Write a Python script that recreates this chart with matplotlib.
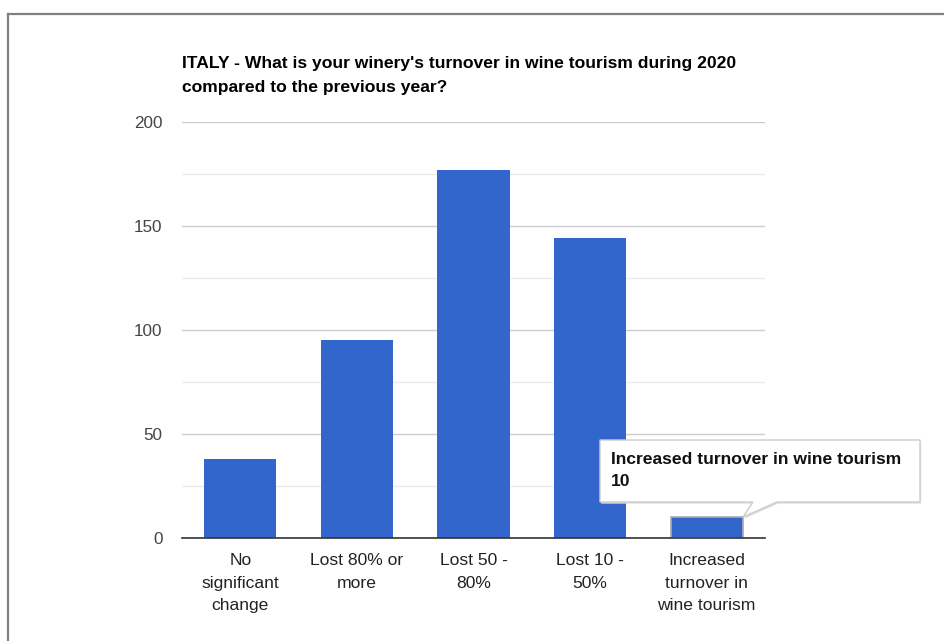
import matplotlib.pyplot as plt
from matplotlib.patches import Polygon
from matplotlib.lines import Line2D

categories = ['No\nsignificant\nchange', 'Lost 80% or\nmore', 'Lost 50 -\n80%',
              'Lost 10 -\n50%', 'Increased\nturnover in\nwine tourism']
values = [38, 95, 177, 144, 10]
yticks = [0, 50, 100, 150, 200]
title = "ITALY - What is your winery's turnover in wine tourism during 2020\ncompared to the previous year?"
tooltip_label = 'Increased turnover in wine tourism'

plt.rcParams['font.family'] = ['Liberation Sans', 'DejaVu Sans']

W, H = 944, 641
fig = plt.figure(figsize=(W / 100, H / 100), dpi=100)
ax = fig.add_axes([182 / W, (H - 538) / H, (765 - 182) / W, (538 - 122) / H])

x = range(len(values))
bars = ax.bar(x, values, width=0.62, color='#3366cc', zorder=3)
# hovered bar gets a grey outline
bars[-1].set_edgecolor('#aaaaaa')
bars[-1].set_linewidth(1.2)

ax.set_xlim(-0.5, len(values) - 0.5)
ax.set_ylim(0, 200)
ax.set_yticks(yticks)
ax.set_yticks([25, 75, 125, 175], minor=True)
ax.grid(axis='y', which='major', color='#cccccc', linewidth=1, zorder=0)
ax.grid(axis='y', which='minor', color='#ebebeb', linewidth=1, zorder=0)
ax.set_xticks(list(x))
ax.set_xticklabels(categories, fontsize=12.6, color='#222222', linespacing=1.63)
ax.tick_params(axis='y', labelsize=12.3, labelcolor='#444444', length=0, pad=14)
ax.tick_params(axis='x', length=0, pad=11)
ax.tick_params(which='minor', length=0)
for s in ['top', 'right', 'left']:
    ax.spines[s].set_visible(False)
ax.spines['bottom'].set_color('#333333')
ax.spines['bottom'].set_linewidth(1.2)
ax.spines['bottom'].set_zorder(4)

fig.text(182 / W, 1 - 56 / H, title, fontsize=12.6, fontweight='bold',
         ha='left', va='top', linespacing=1.76)

# tooltip with pointer, in data coords relative to the last bar
i = len(values) - 1
def px(xp):
    return (xp - 182) / 116.6 - 0.5
def py(yp):
    return (538 - yp) / 2.08

shape = [(px(600), py(440)), (px(920), py(440)), (px(920), py(502)),
         (px(777), py(502)), (px(743), py(517)), (px(753), py(502)),
         (px(600), py(502))]
shadow = Polygon([(a + 0.01, b - 0.8) for a, b in shape], closed=True,
                 facecolor='#dddddd', edgecolor='none', clip_on=False, zorder=5)
box = Polygon(shape, closed=True, facecolor='white', edgecolor='#cccccc',
              linewidth=1, clip_on=False, zorder=6)
ax.add_patch(shadow)
ax.add_patch(box)
ax.text(px(611), py(459), tooltip_label, fontsize=12.6, fontweight='bold',
        color='#111111', ha='left', va='center', zorder=7, clip_on=False)
ax.text(px(611), py(481), str(values[i]), fontsize=12.6, fontweight='bold',
        color='#111111', ha='left', va='center', zorder=7, clip_on=False)

# outer frame of the screenshot
fig.add_artist(Line2D([8 / W, 1], [1 - 14 / H, 1 - 14 / H], color='#808080', linewidth=1.6))
fig.add_artist(Line2D([8 / W, 8 / W], [0, 1 - 14 / H], color='#808080', linewidth=1.6))

fig.savefig('out.png', dpi=100)
